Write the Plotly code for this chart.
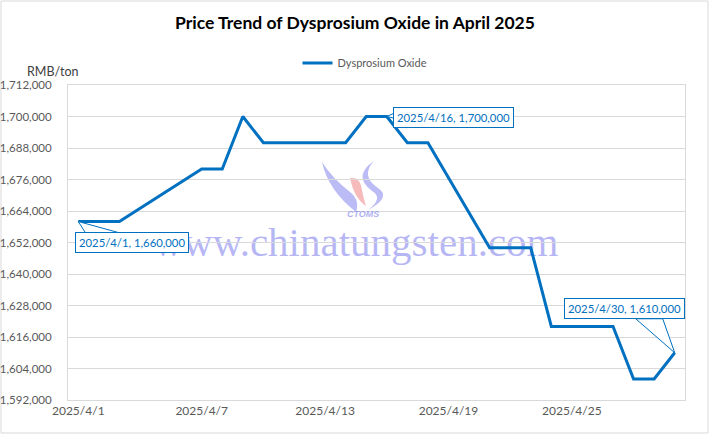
import plotly.graph_objects as go

# ---- data ----
dates = ["2025-04-01", "2025-04-02", "2025-04-03", "2025-04-07", "2025-04-08",
         "2025-04-09", "2025-04-10", "2025-04-11", "2025-04-14", "2025-04-15",
         "2025-04-16", "2025-04-17", "2025-04-18", "2025-04-21", "2025-04-22",
         "2025-04-23", "2025-04-24", "2025-04-25", "2025-04-27", "2025-04-28",
         "2025-04-29", "2025-04-30"]
prices = [1660000, 1660000, 1660000, 1680000, 1680000,
          1700000, 1690000, 1690000, 1690000, 1700000,
          1700000, 1690000, 1690000, 1650000, 1650000,
          1650000, 1620000, 1620000, 1620000, 1600000,
          1600000, 1610000]
series_name = "Dysprosium Oxide"
x_tick_vals = ["2025-04-01", "2025-04-07", "2025-04-13", "2025-04-19", "2025-04-25"]
x_tick_text = ["2025/4/1", "2025/4/7", "2025/4/13", "2025/4/19", "2025/4/25"]
y_min, y_max, y_step = 1592000, 1712000, 12000
callout_dates = ["2025-04-01", "2025-04-16", "2025-04-30"]
callout_labels = ["2025/4/1, 1,660,000", "2025/4/16, 1,700,000", "2025/4/30, 1,610,000"]

FONT = "Lato"
BLUE = "#0070C0"
GRAY_TXT = "#595959"
GRID = "#D9D9D9"

# plot area in pixels
L, R, T, B = 68, 685, 85, 400
W, H = 710, 435


def px(x, y):
    return (x - L) / (R - L), (B - y) / (B - T)


fig = go.Figure()
fig.add_trace(go.Scatter(x=dates, y=prices, mode="lines", name=series_name,
                         line=dict(color=BLUE, width=3)))

shapes = []
annotations = []

# outer chart border
x0, y0 = px(1, 1)
x1, y1 = px(708, 433)
shapes.append(dict(type="rect", xref="paper", yref="paper", x0=x0, y0=y1, x1=x1, y1=y0,
                   line=dict(color="#D9D9D9", width=1), fillcolor="rgba(0,0,0,0)", layer="below"))

# watermark text
cx, cy = px(356, 238)
shapes.append(dict(type="rect", xref="paper", yref="paper", x0=cx - 0.4, x1=cx + 0.4,
                   y0=cy - 0.1, y1=cy + 0.1, line=dict(width=0), fillcolor="rgba(0,0,0,0)",
                   layer="below",
                   label=dict(text="www.chinatungsten.com", textposition="middle center",
                              font=dict(family="Liberation Serif", size=41,
                                        color="rgba(110,110,235,0.5)"))))

# logo swooshes (decoration)
left_sw = ["M", (322, 162), "Q", (328, 190), (356, 212), "Q", (360, 200), (350, 192),
           "Q", (332, 178), (322, 162), "Z"]
right_sw = ["M", (374, 161), "Q", (360, 176), (378, 188), "Q", (392, 197), (368, 210),
            "Q", (384, 198), (372, 191), "Q", (352, 176), (374, 161), "Z"]
pink = ["M", (350, 178), "Q", (360, 176), (362, 190), "Q", (364, 200), (366, 206),
        "Q", (354, 198), (350, 178), "Z"]


def mk(cmds):
    s = []
    for c in cmds:
        if isinstance(c, str):
            s.append(c)
        else:
            a, b = px(*c)
            s.append(f"{a:.4f},{b:.4f}")
    return " ".join(s)


for pth, col in [(left_sw, "rgba(120,120,235,0.5)"), (right_sw, "rgba(120,120,235,0.5)"),
                 (pink, "rgba(240,120,120,0.5)")]:
    shapes.append(dict(type="path", xref="paper", yref="paper", path=mk(pth),
                       fillcolor=col, line=dict(width=0), layer="below"))

lx, ly = px(363, 214)
annotations.append(dict(x=lx, y=ly, xref="paper", yref="paper", text="<b><i>CTOMS</i></b>",
                        xanchor="center", yanchor="middle",
                        showarrow=False, font=dict(family="Liberation Sans", size=9,
                                                   color="rgba(120,120,235,0.6)")))

# callouts: box offsets & tail wedges (pixel offsets, y up)
offsets = [(54, -21), (67, -1), (-50, 44)]
tails = [[(0, 0), (7, -11), (40, -11)],
         [(0, 0), (9, 4), (9, -2)],
         [(0, 0), (-39, 34), (-12, 34)]]
for d, lab, (dx, dy), tail in zip(callout_dates, callout_labels, offsets, tails):
    yv = prices[dates.index(d)]
    p = "M " + " L ".join(f"{a},{b}" for a, b in tail) + " Z"
    shapes.append(dict(type="path", xref="x", yref="y", xsizemode="pixel", ysizemode="pixel",
                       xanchor=d, yanchor=yv, path=p, fillcolor="white",
                       line=dict(color=BLUE, width=1), layer="above"))
    annotations.append(dict(x=d, y=yv, xref="x", yref="y", text=lab, showarrow=False,
                            xshift=dx, yshift=dy, bgcolor="white", bordercolor=BLUE,
                            borderwidth=1, borderpad=3,
                            font=dict(family=FONT, size=11.3, color=BLUE)))

# unit label
ux, uy = px(53, 72)
annotations.append(dict(x=ux, y=uy, xref="paper", yref="paper", text="RMB/ton",
                        xanchor="center", yanchor="middle",
                        showarrow=False, font=dict(family=FONT, size=12.5, color="#404040")))

fig.update_layout(
    width=W, height=H,
    margin=dict(l=L, r=W - R, t=T, b=H - B, autoexpand=False),
    paper_bgcolor="white", plot_bgcolor="white",
    title=dict(text="<b>Price Trend of Dysprosium Oxide in April 2025</b>",
               x=355 / W, xanchor="center", y=1 - 23 / H, yanchor="middle",
               font=dict(family=FONT, size=17.5, color="black")),
    legend=dict(orientation="h", x=365 / W, xref="container", xanchor="center",
                y=1 - 63 / H, yref="container", yanchor="middle",
                font=dict(family=FONT, size=11, color=GRAY_TXT), itemwidth=30),
    showlegend=True,
    shapes=shapes,
    annotations=annotations,
    xaxis=dict(type="date", range=["2025-03-31 12:00", "2025-04-30 12:00"],
               tickvals=x_tick_vals, ticktext=x_tick_text, showgrid=False,
               showline=True, linecolor=GRID, linewidth=1, mirror=True, ticks="",
               tickfont=dict(family=FONT, size=12, color=GRAY_TXT), zeroline=False),
    yaxis=dict(range=[y_min, y_max], dtick=y_step, tick0=y_min, tickformat=",",
               showgrid=True, gridcolor=GRID, gridwidth=1, showline=True, linecolor=GRID,
               mirror=True, ticks="", zeroline=False, ticklabelstandoff=13,
               tickfont=dict(family=FONT, size=11.5, color=GRAY_TXT)),
)

fig.write_html("out.html", config={"displayModeBar": False},
               post_script="document.body.style.margin='0';document.body.style.padding='0';")
